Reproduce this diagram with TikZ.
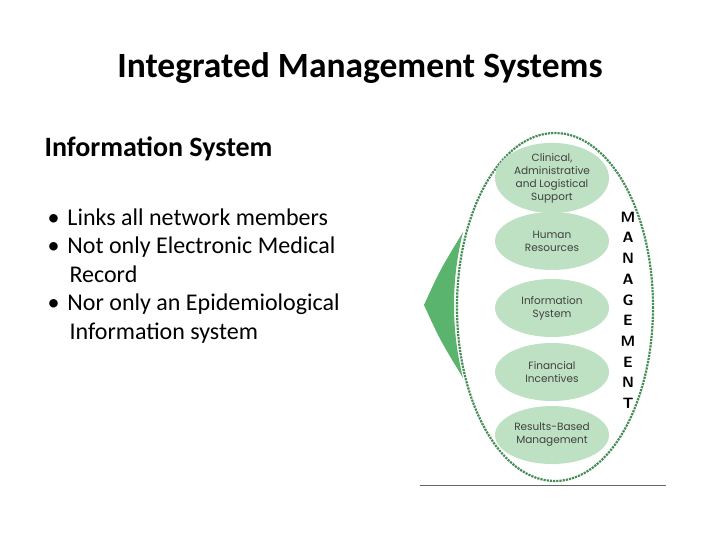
\documentclass[tikz,border=0pt]{standalone}
\usepackage{fontspec}
\setmainfont{Carlito}
\newfontfamily\gothic{Poppins}
\usetikzlibrary{shapes.geometric}
\definecolor{lgreen}{RGB}{190,225,195}
\definecolor{dgreen}{RGB}{70,140,85}
\definecolor{tgreen}{RGB}{90,180,110}
\begin{document}
\begin{tikzpicture}[x=1pt,y=-1pt,
  sub/.style={ellipse,fill=lgreen,minimum width=114pt,minimum height=58pt,inner sep=0pt,align=center,font=\gothic\fontsize{10.5}{13}\selectfont,text=black!75},
  letter/.style={font=\sffamily\bfseries\fontsize{15}{15}\selectfont}]
\useasboundingbox (0,0) rectangle (720,540);
\node[font=\bfseries\fontsize{35.5}{40}\selectfont] (title) at (360,68) {Integrated Management Systems};
\node[anchor=west,font=\bfseries\fontsize{28}{32}\selectfont] (sub) at (41,149) {Information System};
\node[anchor=north west,font=\fontsize{24}{28.5}\selectfont,align=left] (list) at (44,205)
 {\textbullet\hspace{8pt}Links all network members\\
  \textbullet\hspace{8pt}Not only Electronic Medical\\
  \hspace{22pt}Record\\
  \textbullet\hspace{8pt}Nor only an Epidemiological\\
  \hspace{22pt}Information system};
\fill[tgreen] (424,305) .. controls (440,270) .. (463,232) .. controls (451,280) and (451,330) .. (463,378) .. controls (440,340) .. (424,305);
\node[ellipse,minimum width=196pt,minimum height=348pt] (big) at (555,307) {};
\draw[dgreen,densely dotted,line width=2.2pt] (big.center) ellipse[x radius=98,y radius=174];
\node[sub] (a) at (552,178) {Clinical,\\Administrative\\and Logistical\\Support};
\node[sub] (b) at (552,241) {Human\\Resources};
\node[sub] (c) at (552,308) {Information\\System};
\node[sub] (d) at (552,372) {Financial\\Incentives};
\node[sub] (e) at (552,435) {Results-Based\\Management};
\foreach \l [count=\i from 0] in {M,A,N,A,G,E,M,E,N,T}
  \node[letter] (l\i) at (628,217+\i*20.7) {\l};
\coordinate (la) at (420,485); \coordinate (lb) at (666,485);
\draw[black!60,line width=1pt] (la) -- (lb);
\end{tikzpicture}
\end{document}
